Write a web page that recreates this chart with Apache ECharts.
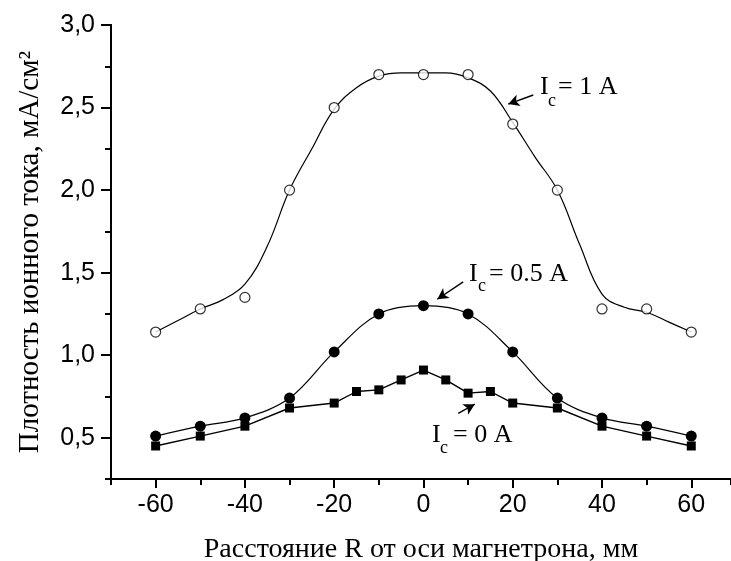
<!DOCTYPE html>
<html>
<head>
<meta charset="utf-8">
<script src="https://cdn.jsdelivr.net/npm/echarts@6/dist/echarts.min.js"></script>
<style>
html,body{margin:0;padding:0;background:#fff;}
#chart{width:731px;height:561px;}
</style>
</head>
<body>
<div id="chart"></div>
<script>
// ---- data ----
const rPoints = [-60, -50, -40, -30, -20, -10, 0, 10, 20, 30, 40, 50, 60];
const ic1Points = [1.14, 1.28, 1.35, 2.00, 2.50, 2.70, 2.70, 2.70, 2.40, 2.00, 1.28, 1.28, 1.14];
const rCurve = [-60, -55, -50, -45, -40, -35, -30, -25, -20, -15, -10, -5, 0, 5, 10, 15, 20, 25, 30, 35, 40, 45, 50, 55, 60];
const ic1Curve = [1.14, 1.21, 1.28, 1.335, 1.43, 1.66, 2.00, 2.25, 2.49, 2.62, 2.69, 2.71, 2.71, 2.71, 2.68, 2.60, 2.41, 2.20, 2.00, 1.67, 1.37, 1.29, 1.26, 1.20, 1.14];
const ic05Points = [0.51, 0.57, 0.62, 0.74, 1.02, 1.25, 1.30, 1.25, 1.02, 0.74, 0.62, 0.57, 0.51];
const rSquares = [-60, -50, -40, -30, -20, -15, -10, -5, 0, 5, 10, 15, 20, 30, 40, 50, 60];
const ic0Points = [0.45, 0.51, 0.57, 0.68, 0.71, 0.78, 0.79, 0.85, 0.91, 0.85, 0.77, 0.78, 0.71, 0.68, 0.57, 0.51, 0.45];
const xMajorTicks = [-60, -40, -20, 0, 20, 40, 60];
const yMajorTicks = [0.5, 1.0, 1.5, 2.0, 2.5, 3.0];

const zip = (xs, ys) => xs.map((x, i) => [x, ys[i]]);
const serif = 'Liberation Serif';
const sans = 'Liberation Sans';

const GRID = {left: 111, right: 0, top: 25, bottom: 82};
const W = 731, H = 561;
const gridW = W - GRID.left - GRID.right;
const gridH = H - GRID.top - GRID.bottom;

const isXMajor = v => xMajorTicks.some(t => Math.abs(t - v) < 1e-6);
const isYMajor = v => yMajorTicks.some(t => Math.abs(t - v) < 1e-6);

const chart = echarts.init(document.getElementById('chart'), null, {renderer: 'canvas'});

const axisLineStyle = {color: '#000', width: 2};
const baseX = {
  type: 'value', min: -70, max: 68.9, interval: 10,
  splitLine: {show: false}
};
const baseY = {
  type: 'value', min: 0.25, max: 3.0, interval: 0.25,
  splitLine: {show: false}
};

const option = {
  backgroundColor: '#fff',
  animation: false,
  grid: Object.assign({containLabel: false, outerBoundsMode: 'none'}, GRID),
  xAxis: [
    Object.assign({}, baseX, {
      position: 'bottom',
      name: 'Расстояние R от оси магнетрона, мм',
      nameLocation: 'middle', nameGap: 57, nameMoveOverlap: false,
      nameTextStyle: {fontFamily: serif, fontSize: 28, color: '#000'},
      axisLine: {show: true, onZero: false, lineStyle: axisLineStyle},
      axisTick: {show: true, length: 6, lineStyle: {color: '#000', width: 2}},
      axisLabel: {show: true, margin: 14, fontFamily: sans, fontSize: 25, color: '#000',
        formatter: v => isXMajor(v) ? String(Math.round(v)) : ''}
    }),
    Object.assign({}, baseX, {
      position: 'top', offset: -gridH,
      axisLine: {show: true, onZero: false, lineStyle: axisLineStyle},
      axisTick: {show: true, inside: true, length: 9, lineStyle: {color: '#000', width: 2}, customValues: xMajorTicks},
      axisLabel: {show: true, color: 'rgba(0,0,0,0)', fontSize: 10, customValues: xMajorTicks}
    })
  ],
  yAxis: [
    Object.assign({}, baseY, {
      position: 'left',
      name: 'Плотность ионного тока, мА/см²',
      nameLocation: 'middle', nameGap: 66, nameRotate: 90, nameMoveOverlap: false,
      nameTextStyle: {fontFamily: serif, fontSize: 29, color: '#000'},
      axisLine: {show: true, onZero: false, lineStyle: axisLineStyle},
      axisTick: {show: true, length: 6, lineStyle: {color: '#000', width: 2}},
      axisLabel: {show: true, margin: 16, fontFamily: sans, fontSize: 25, color: '#000',
        formatter: v => isYMajor(v) ? Number(v).toFixed(1).replace('.', ',') : ''}
    }),
    Object.assign({}, baseY, {
      position: 'right', offset: -gridW,
      axisLine: {show: true, onZero: false, lineStyle: axisLineStyle},
      axisTick: {show: true, inside: true, length: 10, lineStyle: {color: '#000', width: 2}, customValues: yMajorTicks},
      axisLabel: {show: true, color: 'rgba(0,0,0,0)', fontSize: 10, customValues: yMajorTicks}
    })
  ],
  series: [
    {
      name: 'Ic = 1 A curve', type: 'line', data: zip(rCurve, ic1Curve),
      smooth: 0.4, showSymbol: false, symbol: 'none',
      lineStyle: {color: '#000', width: 1.2}, z: 2, silent: true,
      markLine: {
        silent: true, symbol: ['none', 'arrow'], symbolSize: [9, 11],
        lineStyle: {color: '#000', width: 1.4, type: 'solid'}, label: {show: false},
        data: [
          [{coord: [24.6, 2.576]}, {coord: [19.0, 2.521]}],
          [{coord: [8.9, 1.444]}, {coord: [3.1, 1.339]}],
          [{coord: [7.8, 0.647]}, {coord: [11.5, 0.703]}]
        ]
      }
    },
    {
      name: 'Ic = 1 A', type: 'scatter', data: zip(rPoints, ic1Points),
      symbol: 'circle', symbolSize: 10,
      itemStyle: {color: '#fff', borderColor: '#000', borderWidth: 1.2}, z: 5
    },
    {
      name: 'Ic = 0.5 A', type: 'line', data: zip(rPoints, ic05Points),
      smooth: 0.35, symbol: 'circle', symbolSize: 11, showSymbol: true,
      lineStyle: {color: '#000', width: 1.2},
      itemStyle: {color: '#000', borderColor: '#000', borderWidth: 0}, z: 4
    },
    {
      name: 'Ic = 0 A', type: 'line', data: zip(rSquares, ic0Points),
      smooth: false, symbol: 'rect', symbolSize: 9, showSymbol: true,
      lineStyle: {color: '#000', width: 1.4},
      itemStyle: {color: '#000', borderColor: '#000', borderWidth: 0}, z: 4
    }
  ]
};

const annotations = [
  {type: 'text', x: 540, y: 87, style: {text: 'I', font: '26px "Liberation Serif"', fill: '#000', verticalAlign: 'middle'}},
  {type: 'text', x: 548, y: 101, style: {text: 'c', font: '18px "Liberation Serif"', fill: '#000', verticalAlign: 'middle'}},
  {type: 'text', x: 558, y: 87, style: {text: '= 1 A', font: '26px "Liberation Serif"', fill: '#000', verticalAlign: 'middle'}},

  {type: 'text', x: 469, y: 274, style: {text: 'I', font: '26px "Liberation Serif"', fill: '#000', verticalAlign: 'middle'}},
  {type: 'text', x: 478, y: 286, style: {text: 'c', font: '18px "Liberation Serif"', fill: '#000', verticalAlign: 'middle'}},
  {type: 'text', x: 489, y: 274, style: {text: '= 0.5 A', font: '26px "Liberation Serif"', fill: '#000', verticalAlign: 'middle'}},

  {type: 'text', x: 432, y: 435, style: {text: 'I', font: '26px "Liberation Serif"', fill: '#000', verticalAlign: 'middle'}},
  {type: 'text', x: 440, y: 448, style: {text: 'c', font: '18px "Liberation Serif"', fill: '#000', verticalAlign: 'middle'}},
  {type: 'text', x: 453, y: 435, style: {text: '= 0 A', font: '26px "Liberation Serif"', fill: '#000', verticalAlign: 'middle'}}
];

chart.setOption(option);
chart.setOption({graphic: annotations});
</script>
</body>
</html>
